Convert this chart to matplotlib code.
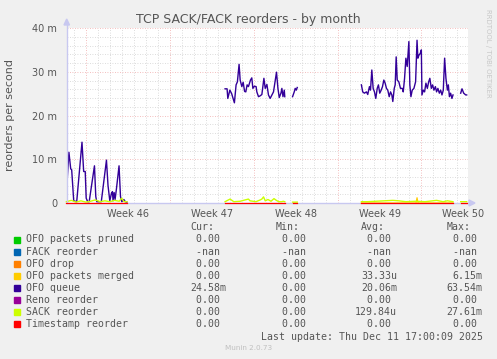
import numpy as np
import matplotlib
matplotlib.use('Agg')
import matplotlib.pyplot as plt
from matplotlib.patches import Rectangle, Polygon

nan = np.nan

# x = days since Monday of week 46, values in milli (m) reorders per second
queue_days = [-1.61, -1.40, -1.25, -1.17, -1.00, -0.75, -0.31, -0.17, -0.04, 0.04, 0.17, 0.29,
              0.73, 0.84, 0.92, 1.30, 1.73, 1.86, 2.01, 2.15, 2.23, 2.28, 2.37, 2.45, 2.57,
              2.78, 2.90, 3.01, 3.18, 3.30, 3.43, 3.5,
              11.62, 11.79, 11.85, 12.02, 12.17, 12.40, 12.54, 12.65, 12.79, 12.88, 13.02,
              13.13, 13.25, 13.35, 13.46, 13.57, 13.74, 13.85, 13.94, 14.07, 14.21, 14.27,
              14.41, 14.55, 14.69, 14.86, 14.97, 15.11, 15.24, 15.38, 15.53, 15.66, 15.80,
              15.91, 16.03, 16.14, 16.28, 16.36, 16.45, 16.56, 16.60, 16.7,
              17.25, 17.39, 17.47, 17.56, 17.64, 17.7,
              22.99, 23.10, 23.24, 23.41, 23.52, 23.66, 23.75, 23.86, 23.97, 24.08, 24.19,
              24.31, 24.41, 24.52, 24.64, 24.75, 24.86, 24.97, 25.08, 25.19, 25.31, 25.42,
              25.53, 25.61, 25.73, 25.81, 25.89, 25.98, 26.11, 26.25, 26.40, 26.48, 26.59,
              26.70, 26.81, 26.95, 27.03, 27.12, 27.23, 27.37, 27.51, 27.63, 27.70, 27.79,
              27.90, 27.99, 28.04, 28.15, 28.26, 28.37, 28.49, 28.60, 28.70, 28.82, 28.93,
              29.04, 29.16, 29.26, 29.37, 29.49, 29.60, 29.71, 29.82, 29.93, 30.04, 30.16,
              30.24, 30.33, 30.43, 30.54, 30.63, 30.7,
              31.27, 31.38, 31.52, 31.69, 31.77]
queue_vals = [2.3, 11.6, 7.8, 7.6, 0.5, 0.3, 13.9, 7.2, 7.2, 1.1, 0.3, 0.3,
              8.5, 1.5, 0.3, 0.3, 9.8, 4.0, 0.5, 2.2, 2.6, 0.5, 2.4, 0.8, 3.4,
              8.5, 1.5, 0.3, 0.8, 0.3, 0.2, nan,
              26.1, 26.1, 23.9, 25.8, 25.0, 22.9, 27.0, 27.7, 31.7, 28.1, 26.6,
              27.6, 25.5, 25.4, 27.0, 26.6, 28.1, 28.6, 26.2, 26.7, 26.6, 25.4,
              24.3, 24.5, 24.8, 28.5, 26.2, 27.1, 24.7, 23.9, 24.7, 25.4, 27.9,
              29.9, 26.2, 24.1, 25.1, 26.2, 24.3, 25.8, 24.3, nan,
              24.3, 25.4, 26.2, 25.8, 26.4, nan,
              27.0, 25.4, 25.1, 25.4, 24.8, 26.6, 25.8, 30.4, 26.2, 25.4, 23.9,
              26.2, 27.0, 25.1, 25.8, 26.6, 28.1, 27.4, 26.2, 25.8, 24.3, 25.4,
              24.7, 23.2, 26.2, 27.0, 33.4, 28.1, 27.7, 26.2, 26.2, 25.4, 28.5,
              33.1, 31.2, 36.9, 27.0, 24.3, 25.8, 26.2, 27.7, 37.2, 33.1, 33.8,
              34.2, 35.0, 24.7, 25.8, 25.4, 27.4, 26.2, 27.7, 28.5, 26.2, 27.0,
              25.8, 26.6, 25.4, 26.2, 25.1, 25.8, 24.7, 25.8, 33.1, 28.5, 25.8,
              27.0, 24.3, 25.1, 23.9, 24.7, nan,
              25.1, 26.1, 25.1, 24.7, 24.7]

sack_days = [-1.61, -1.2, -0.8, -0.4, 0.0, 0.4, 0.8, 1.2, 1.6, 2.0, 2.4, 2.8, 3.0, 3.2, 3.43, 3.5,
             11.62, 12.04, 12.35, 12.88, 13.57, 13.70, 14.2, 14.55, 14.69, 14.83, 14.97,
             15.2, 15.45, 15.7, 15.9, 16.1, 16.36, 16.47, 16.60, 16.7,
             17.25, 17.64, 17.7,
             22.99, 23.5, 24.2, 25.61, 26.1, 26.7, 27.5, 28.3, 29.26, 29.8, 30.16, 30.63, 30.7,
             31.27, 31.77]
sack_vals = [0.3, 0.6, 0.2, 0.5, 0.2, 0.4, 0.7, 0.3, 0.5, 0.3, 0.6, 0.4, 1.1, 0.3, 0.3, nan,
             0.3, 0.9, 0.3, 0.4, 0.9, 0.5, 0.3, 0.7, 0.9, 1.4, 0.5,
             0.8, 0.4, 1.0, 0.6, 0.3, 0.3, 0.4, 0.3, nan,
             0.2, 0.2, nan,
             0.3, 0.3, 0.4, 0.6, 0.5, 0.3, 0.4, 0.3, 0.6, 0.3, 0.5, 0.3, nan,
             0.3, 0.3]

merged_days = [22.99, 27.55, 27.63, 27.71, 30.63]
merged_vals = [0.0, 0.0, 1.2, 0.0, 0.0]

# spans where the rrd has data (flat zero series)
present = [(-1.61, 3.43), (11.62, 16.60), (17.25, 17.64), (22.99, 30.63), (31.27, 31.77)]

week_starts = [0, 7, 14, 21, 28]
week_labels = ['Week 46', 'Week 47', 'Week 48', 'Week 49', 'Week 50']

names = ['OFO packets pruned', 'FACK reorder', 'OFO drop', 'OFO packets merged',
         'OFO queue', 'Reno reorder', 'SACK reorder', 'Timestamp reorder']
colors = ['#00CC00', '#0066B3', '#FF8000', '#FFCC00', '#330099', '#990099', '#CCFF00', '#FF0000']
cur = ['0.00 ', '-nan ', '0.00 ', '0.00 ', '24.58m', '0.00 ', '0.00 ', '0.00 ']
mins = ['0.00 ', '-nan ', '0.00 ', '0.00 ', '0.00 ', '0.00 ', '0.00 ', '0.00 ']
avgs = ['0.00 ', '-nan ', '0.00 ', '33.33u', '20.06m', '0.00 ', '129.84u', '0.00 ']
maxs = ['0.00 ', '-nan ', '0.00 ', '6.15m', '63.54m', '0.00 ', '27.61m', '0.00 ']

W, H = 497, 359
fig = plt.figure(figsize=(W / 100, H / 100), dpi=100, facecolor='#F0F0F0')
ax = fig.add_axes([67 / W, 1 - 203 / H, 401 / W, 175 / H])
ax.set_facecolor('white')
ax.set_xlim(-1.56, 31.88)
ax.set_ylim(0, 40)

def fx(x):
    return x / W

def fy(y):
    return 1 - y / H

txt = '#555555'

# grid
dot = (0, (1, 2))
for d in np.arange(-1, 32):
    if d not in week_starts:
        ax.axvline(d, color='#D0D0D0', lw=0.6, ls=dot, zorder=0)
for v in np.arange(2, 41, 2):
    if v % 10:
        ax.axhline(v, color='#D0D0D0', lw=0.6, ls=dot, zorder=0)
for d in week_starts:
    ax.axvline(d, color='#F0A8A8', lw=0.6, ls=dot, zorder=0)
for v in [10, 20, 30, 40]:
    ax.axhline(v, color='#F0A8A8', lw=0.6, ls=dot, zorder=0)

# series, munin draw order
for a, b in present:
    ax.plot([a, b], [0, 0], color=colors[0], lw=0.6, clip_on=False)
    ax.plot([a, b], [0, 0], color=colors[2], lw=0.6, clip_on=False)
ax.plot(merged_days, merged_vals, color=colors[3], lw=0.9, clip_on=False)
ax.plot(queue_days, queue_vals, color=colors[4], lw=1.0)
for a, b in present:
    ax.plot([a, b], [0, 0], color=colors[5], lw=0.6, clip_on=False)
ax.plot(sack_days, sack_vals, color=colors[6], lw=1, clip_on=False)
for a, b in present:
    ax.plot([a, b], [0, 0], color=colors[7], lw=0.9, clip_on=False, zorder=3)

for s in ax.spines.values():
    s.set_visible(False)

# axes lines with arrows
axc = '#C8C8F0'
ax.plot([0, 0], [0, 1.03], transform=ax.transAxes, color=axc, lw=1, clip_on=False)
ax.plot([0, 1.01], [0, 0], transform=ax.transAxes, color=axc, lw=1, clip_on=False, zorder=1)
fig.add_artist(Polygon([(fx(64), fy(25)), (fx(69.5), fy(25)), (fx(66.7), fy(19))],
                       closed=True, color=axc, transform=fig.transFigure))
fig.add_artist(Polygon([(fx(469), fy(200)), (fx(469), fy(206)), (fx(475), fy(203))],
                       closed=True, color=axc, transform=fig.transFigure))

ax.set_yticks([0, 10, 20, 30, 40], ['0', '10 m', '20 m', '30 m', '40 m'])
ax.set_xticks([w + 3.5 for w in week_starts], week_labels)
ax.tick_params(axis='both', length=0, labelsize=7, labelcolor=txt)
ax.tick_params(axis='y', pad=7)
ax.tick_params(axis='x', pad=4)

fig.text(fx(248), fy(20), 'TCP SACK/FACK reorders - by month', ha='center', va='center',
         fontsize=9, color=txt)
fig.text(fx(10), fy(115), 'reorders per second', ha='center', va='center', rotation=90,
         fontsize=8, color=txt)
fig.text(fx(488), fy(53), 'RRDTOOL / TOBI OETIKER', ha='center', va='center', rotation=270,
         fontsize=5, color='#C8C8C8')

# legend block
mono = 'DejaVu Sans Mono'
lfs = 7.1
cw = 6.0
col_right = [226, 311.5, 397, 482.7]
headers = ['Cur:', 'Min:', 'Avg:', 'Max:']
for r, h in zip(col_right, headers):
    fig.text(fx(r - 6 * cw), fy(227.5), h, fontsize=lfs, family=mono, color=txt,
             ha='left', va='center')
row_y = 239.5
for i in range(len(names)):
    y = row_y + i * 12.05
    fig.add_artist(Rectangle((fx(14), fy(y + 3)), 6 / W, 6 / H, color=colors[i],
                             transform=fig.transFigure))
    fig.text(fx(26), fy(y), names[i], fontsize=lfs, family=mono, color=txt, ha='left', va='center')
    for r, s in zip(col_right, [cur[i], mins[i], avgs[i], maxs[i]]):
        fig.text(fx(r - len(s) * cw), fy(y), s, fontsize=lfs, family=mono, color=txt,
                 ha='left', va='center')

upd = 'Last update: Thu Dec 11 17:00:09 2025'
fig.text(fx(482.7 - len(upd) * cw), fy(336.5), upd, fontsize=lfs, family=mono, color=txt,
         ha='left', va='center')
fig.text(fx(248.5), fy(348), 'Munin 2.0.73', fontsize=5.2, color='#C0C0C0', ha='center', va='center')

fig.savefig('out.png', dpi=100, facecolor=fig.get_facecolor())
